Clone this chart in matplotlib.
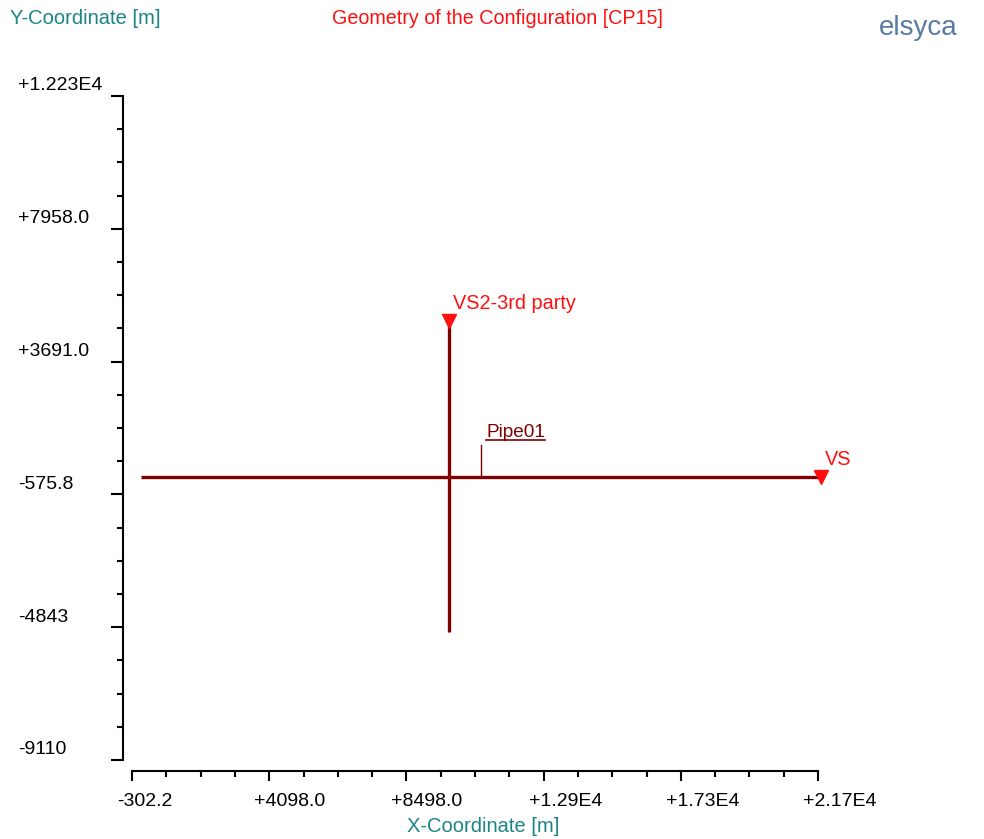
import numpy as np
import matplotlib
matplotlib.use("Agg")
import matplotlib.pyplot as plt
import matplotlib.transforms as mtransforms

# axis ranges and tick labels
x_min, x_max = -302.2, 21698.0
y_min, y_max = -9110.0, 12230.0
x_tick_labels = ["-302.2", "+4098.0", "+8498.0", "+1.29E4", "+1.73E4", "+2.17E4"]
y_tick_labels = ["-9110", "-4843", "-575.8", "+3691.0", "+7958.0", "+1.223E4"]

# pipes (x, y pairs)
pipe_h_x = [0.0, 21800.0]
pipe_h_y = [0.0, 0.0]
pipe_v_x = [9870.0, 9870.0]
pipe_v_y = [-5000.0, 5000.0]

# sources / end nodes
node_names = ["VS2-3rd party", "VS"]
node_x = [9870.0, 21800.0]
node_y = [5000.0, 0.0]

# pipe label pointer
pipe_label = "Pipe01"
pipe_label_x = 10900.0
pipe_label_y = [0.0, 1000.0]

TEAL = "#1b8585"
RED = "#ff1010"
PIPE = "#800000"
FONT = "Liberation Sans"

W, H = 984, 839
fig = plt.figure(figsize=(W / 100, H / 100), dpi=100)
ax = fig.add_axes([132 / W, 1 - 760 / H, (818 - 132) / W, (760 - 96) / H])

ax.plot(pipe_h_x, pipe_h_y, color=PIPE, lw=2.4, solid_capstyle="butt", clip_on=False)
ax.plot(pipe_v_x, pipe_v_y, color=PIPE, lw=2.4, solid_capstyle="butt", clip_on=False)
ax.plot([pipe_label_x, pipe_label_x], pipe_label_y, color=PIPE, lw=1.0, clip_on=False)
pipe_txt = ax.annotate(pipe_label, (pipe_label_x, pipe_label_y[1]), xytext=(5, 4),
                       textcoords="offset pixels", color=PIPE, fontsize=13.7,
                       family=FONT, ha="left", va="bottom", annotation_clip=False)

ax.plot(node_x, node_y, linestyle="none", marker="v", markersize=10,
        color=RED, clip_on=False, zorder=5)
for name, nx, ny in zip(node_names, node_x, node_y):
    ax.annotate(name, (nx, ny), xytext=(4, 8), textcoords="offset pixels",
                color=RED, fontsize=14.3, family=FONT, ha="left", va="bottom",
                annotation_clip=False)

ax.set_xlim(x_min, x_max)
ax.set_ylim(y_min, y_max)

xt = np.linspace(x_min, x_max, len(x_tick_labels))
yt = np.linspace(y_min, y_max, len(y_tick_labels))
ax.set_xticks(xt)
ax.set_yticks(yt)
ax.set_xticks(np.linspace(x_min, x_max, 4 * (len(xt) - 1) + 1), minor=True)
ax.set_yticks(np.linspace(y_min, y_max, 4 * (len(yt) - 1) + 1), minor=True)
ax.set_xticklabels([])
ax.set_yticklabels([])
ax.tick_params(which="major", direction="out", length=7, width=1.5, color="black")
ax.tick_params(which="minor", direction="out", length=4, width=1.5, color="black")
ax.tick_params(axis="y", which="major", length=9)

for s in ["top", "right"]:
    ax.spines[s].set_visible(False)
ax.spines["left"].set_position(("outward", 9 * 0.72))
ax.spines["bottom"].set_position(("outward", 11 * 0.72))
for s in ["left", "bottom"]:
    ax.spines[s].set_linewidth(1.5)
ax.patch.set_visible(False)

# tick label texts
xtrans = mtransforms.offset_copy(ax.get_xaxis_transform(), fig=fig, x=-15, y=-41, units="dots")
for v, lab in zip(xt, x_tick_labels):
    ax.text(v, 0, lab, transform=xtrans, ha="left", va="center",
            fontsize=14, family=FONT, color="black")
ybase = mtransforms.blended_transform_factory(fig.transFigure, ax.transData)
ytrans = mtransforms.offset_copy(ybase, fig=fig, x=0, y=10, units="dots")
for v, lab in zip(yt, y_tick_labels):
    ax.text(18 / W, v, lab, transform=ytrans, ha="left", va="center",
            fontsize=14, family=FONT, color="black")

fig.text(10 / W, 1 - 19 / H, "Y-Coordinate [m]", color=TEAL, fontsize=14.5,
         family=FONT, ha="left", va="center")
fig.text(497 / W, 1 - 19 / H, "Geometry of the Configuration [CP15]", color=RED,
         fontsize=14.2, family=FONT, ha="center", va="center")
fig.text(483 / W, 1 - 826 / H, "X-Coordinate [m]", color=TEAL, fontsize=14.5,
         family=FONT, ha="center", va="center")
fig.text(918 / W, 1 - 28 / H, "elsyca", color="#5a7aa6", fontsize=20,
         family=FONT, ha="center", va="center")

fig.canvas.draw()
bb = pipe_txt.get_window_extent()
fig.add_artist(plt.Line2D([bb.x0, bb.x1], [bb.y0 + 1, bb.y0 + 1],
                          transform=None, color=PIPE, lw=1.2))

fig.savefig("out.png", dpi=100)
